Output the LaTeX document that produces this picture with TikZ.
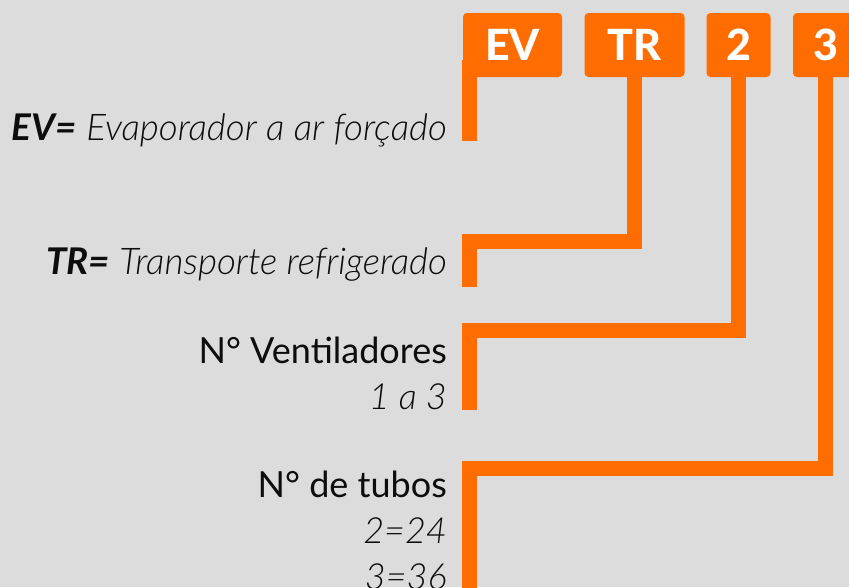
\documentclass[tikz,border=0pt]{standalone}
\usepackage{fontspec}
\setmainfont{Lato}
\newfontfamily\latolight{Lato Light}
\newfontfamily\latoheavy{Lato Heavy}
\definecolor{bgc}{HTML}{DCDCDC}
\definecolor{org}{HTML}{FF6C00}
\definecolor{ink}{HTML}{0D0D0D}
\begin{document}
\begin{tikzpicture}[x=1pt,y=1pt,
  codebox/.style={fill=org,rounded corners=4pt,inner sep=0pt,text=white,font=\fontsize{43}{43}\selectfont\latoheavy},
  link/.style={draw=org,line width=15pt,line cap=butt,line join=miter},
  lbl/.style={anchor=base east,inner sep=0pt,text=ink},
  big/.style={font=\fontsize{36}{36}\selectfont},
  itbig/.style={font=\fontsize{36.8}{36.8}\selectfont}]
\fill[bgc] (0,0) rectangle (849,-587);
\clip (0,0) rectangle (849,-587);
\useasboundingbox (0,0) rectangle (849,-587);
% code boxes
\node[codebox,minimum width=99pt,minimum height=64pt] (ev) at (512.5,-45) {EV};
\node[codebox,minimum width=100pt,minimum height=64pt] (tr) at (634.5,-45) {TR};
\node[codebox,minimum width=64pt,minimum height=64pt] (n2) at (738.5,-45) {2};
\node[codebox,minimum width=65pt,minimum height=64pt] (n3) at (825.5,-45) {3};
% end points
\coordinate (e1) at (469.5,-141);
\coordinate (e2) at (469.5,-287);
\coordinate (e3) at (469.5,-410);
\coordinate (e4) at (469.5,-600);
\coordinate (s1) at (469.5,-60);
% connectors
\draw[link] (s1) -- (e1);
\draw[link] ([yshift=1pt]tr.south) |- (469.5,-241.5) -- (e2);
\draw[link] ([yshift=1pt]n2.south) |- (469.5,-330.5) -- (e3);
\draw[link] ([yshift=1pt]n3.south) |- (469.5,-468.5) -- (e4);
% labels
\node[lbl,itbig] (l1) at (447,-140) {{\bfseries\itshape EV=} {\latolight\itshape Evaporador a ar forçado}};
\node[lbl,itbig] (l2) at (447,-274) {{\bfseries\itshape TR=} {\latolight\itshape Transporte refrigerado}};
\node[lbl,big] (l3) at (447,-363) {N° Ventiladores};
\node[lbl,big] (l4) at (447,-409) {\latolight\itshape 1 a 3};
\node[lbl,big] (l5) at (447,-497) {N° de tubos};
\node[lbl,big] (l6) at (447,-543) {\latolight\itshape 2=24};
\node[lbl,big] (l7) at (447,-589) {\latolight\itshape 3=36};
\end{tikzpicture}
\end{document}
